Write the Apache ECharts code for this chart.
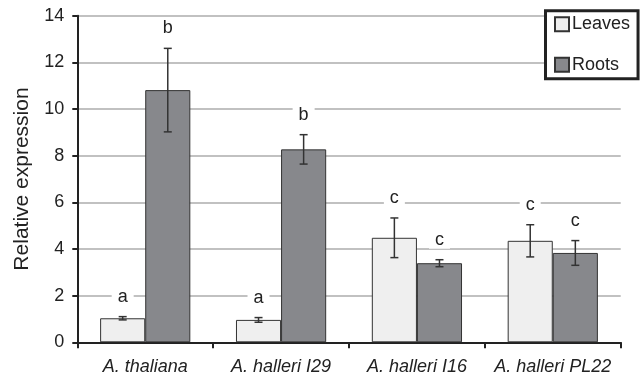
<!DOCTYPE html>
<html>
<head>
<meta charset="utf-8">
<script src="https://cdn.jsdelivr.net/npm/echarts@6/dist/echarts.min.js"></script>
<style>html,body{margin:0;padding:0;background:#fff;}#c{width:640px;height:379px;}</style>
</head>
<body>
<div id="c"></div>
<script>
var categories = ['A. thaliana', 'A. halleri I29', 'A. halleri I16', 'A. halleri PL22'];
var leaves = [1.03, 0.96, 4.48, 4.35];
var leavesErr = [0.07, 0.10, 0.85, 0.69];
var leavesLetters = ['a', 'a', 'c', 'c'];
var roots = [10.81, 8.27, 3.39, 3.83];
var rootsErr = [1.79, 0.63, 0.15, 0.53];
var rootsLetters = ['b', 'b', 'c', 'c'];
var yTicks = [0, 2, 4, 6, 8, 10, 12, 14];

var FONT = '"Liberation Sans", Arial, sans-serif';
var BAR_FRAC = 0.332;

function errData(vals, errs) {
  return vals.map(function (v, i) { return [i, v, errs[i]]; });
}
var errLetters = {};

function makeRender(side) {
  return function (params, api) {
    var i = api.value(0), v = api.value(1), e = api.value(2);
    var letter = errLetters[params.seriesIndex][params.dataIndex];
    var catW = api.size([1, 0])[0];
    var bw = catW * BAR_FRAC;
    var cx = api.coord([i, 0])[0] + side * bw / 2;
    var yTop = api.coord([i, v + e])[1];
    var yBot = api.coord([i, v - e])[1];
    var cap = 4;
    var st = { stroke: '#333', lineWidth: 1.5 };
    return {
      type: 'group',
      children: [
        { type: 'line', shape: { x1: cx, y1: yTop, x2: cx, y2: yBot }, style: st },
        { type: 'line', shape: { x1: cx - cap, y1: yTop, x2: cx + cap, y2: yTop }, style: st },
        { type: 'line', shape: { x1: cx - cap, y1: yBot, x2: cx + cap, y2: yBot }, style: st },
        { type: 'text', x: cx, y: yTop - 20, style: {
            text: letter, fill: '#222', fontSize: 18, fontFamily: FONT,
            align: 'center', verticalAlign: 'middle',
            backgroundColor: '#fff', padding: [0, 6, 0, 6]
        } }
      ]
    };
  };
}

var chart = echarts.init(document.getElementById('c'), null, { renderer: 'canvas' });
var option = {
  animation: false,
  backgroundColor: '#fff',
  grid: { left: 77.3, right: 19.3, top: 15.7, bottom: 36.7, containLabel: false },
  legend: {
    orient: 'vertical',
    left: 545.5, top: 10.8,
    data: ['Leaves', 'Roots'],
    icon: 'rect',
    itemWidth: 14, itemHeight: 14, itemGap: 22.5,
    padding: [4.5, 8, 5, 8.5],
    backgroundColor: '#fff',
    borderColor: '#222', borderWidth: 3,
    textStyle: { fontFamily: FONT, fontSize: 18, color: '#222', padding: [0, 0, 0, -2] }
  },
  xAxis: {
    type: 'category',
    data: categories,
    axisLine: { lineStyle: { color: '#222', width: 2 } },
    axisTick: { show: true, length: 6, interval: 0, lineStyle: { color: '#222', width: 2 } },
    axisLabel: { interval: 0, fontFamily: FONT, fontSize: 18, fontStyle: 'italic', color: '#222', margin: 16 },
    splitLine: { show: false }
  },
  yAxis: {
    type: 'value',
    min: 0, max: 14, interval: 2,
    name: 'Relative expression',
    nameLocation: 'middle',
    nameGap: 45,
    nameTextStyle: { fontFamily: FONT, fontSize: 21, color: '#222' },
    axisLine: { show: true, lineStyle: { color: '#222', width: 2 } },
    axisTick: { show: true, length: 5, lineStyle: { color: '#222', width: 2 } },
    axisLabel: { fontFamily: FONT, fontSize: 18, color: '#222', margin: 13,
      formatter: function (v) { return yTicks.indexOf(v) >= 0 ? String(v) : ''; } },
    splitLine: { show: true, lineStyle: { color: '#acacac', width: 1.5 } }
  },
  series: [
    { name: 'Leaves', type: 'bar', data: leaves, barWidth: (BAR_FRAC * 100) + '%', barGap: '0%',
      itemStyle: { color: '#efefef', borderColor: '#333', borderWidth: 1 }, z: 2 },
    { name: 'Roots', type: 'bar', data: roots, barWidth: (BAR_FRAC * 100) + '%', barGap: '0%',
      itemStyle: { color: '#87888c', borderColor: '#333', borderWidth: 1 }, z: 2 },
    { name: 'LeavesErr', type: 'custom', data: errData(leaves, leavesErr),
      renderItem: makeRender(-1), z: 5, silent: true },
    { name: 'RootsErr', type: 'custom', data: errData(roots, rootsErr),
      renderItem: makeRender(1), z: 5, silent: true }
  ]
};
errLetters[2] = leavesLetters;
errLetters[3] = rootsLetters;
chart.setOption(option);
</script>
</body>
</html>
